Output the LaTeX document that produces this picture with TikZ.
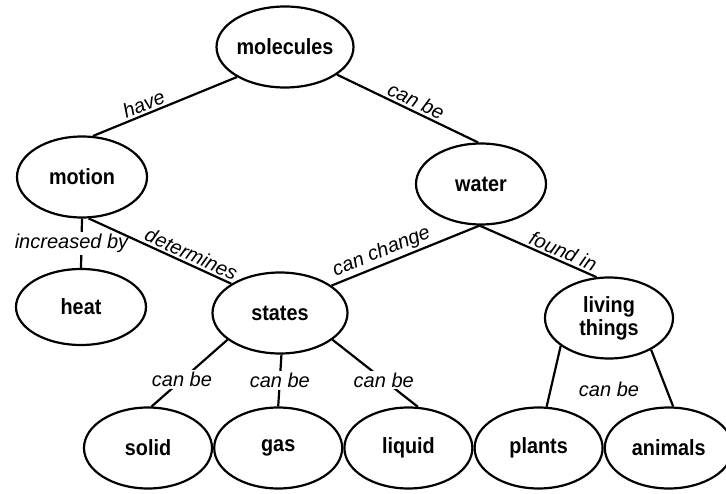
\documentclass[tikz,border=0pt]{standalone}
\usepackage{fontspec}
\setmainfont{Liberation Sans}
\newfontfamily\conceptfont[FakeStretch=0.9]{Liberation Sans}
\usepackage{tikz}
\usetikzlibrary{positioning,shapes.geometric}

\begin{document}
\begin{tikzpicture}[
  x=1pt, y=-1pt,
  concept/.style={ellipse, draw=black, line width=2.2pt, minimum width=130pt,
    minimum height=81pt, inner sep=0pt, align=center,
    font=\conceptfont\bfseries\fontsize{22}{23}\selectfont},
  link/.style={line width=2.2pt, color=black},
  lbl/.style={font=\itshape\fontsize{20}{22}\selectfont, inner sep=2pt},
  cut/.style={lbl, fill=white},
]
  \useasboundingbox (0,0) rectangle (726,494);

  \node[concept, minimum width=134pt] (mol) at (285,47) {molecules};
  \node[concept] (motion) at (82,177) {motion};
  \node[concept] (water)  at (481,184) {water};
  \node[concept, minimum height=76pt] (heat) at (81,307) {heat};
  \node[concept, minimum width=135pt] (states) at (280,313) {states};
  \node[concept, minimum width=128pt] (living) at (609,318) {living\\things};

  % bottom row, ellipses touching
  \node[concept, minimum width=128pt] (solid) at (148,448) {solid};
  \node[concept, minimum width=128pt, right=0pt of solid]  (gas)     {gas};
  \node[concept, minimum width=128pt, right=0pt of gas]    (liquid)  {liquid};
  \node[concept, minimum width=128pt, right=0pt of liquid] (plants)  {plants};
  \node[concept, minimum width=128pt, right=0pt of plants] (animals) {animals};

  \draw[link] (mol.212) -- node[lbl, sloped, above, pos=0.62] {have} (motion.75);
  \draw[link] (mol.332) -- node[lbl, sloped, above, pos=0.53] {can be} (water.94);
  \draw[link] (motion.south) -- node[cut, xshift=-10pt] {increased by} (heat.north);
  \draw[link] (motion.279) -- node[lbl, sloped, above, pos=0.69] {determines} (states.149);
  \draw[link] (water.268) -- node[lbl, sloped, above, pos=0.63] {can change} (states.28);
  \draw[link] (water.268) -- node[lbl, sloped, above, pos=0.68] {found in} (living.107);

  \draw[link] (states.207) -- node[cut, pos=0.6] {can be} (solid.85);
  \draw[link] (states.272) -- node[cut] {can be} (gas.north);
  \draw[link] (states.333) -- node[cut, pos=0.6] {can be} (liquid.77);

  \draw[link] (living.210) -- (plants.79);
  \draw[link] (living.323) -- (animals.84);
  \node[lbl, below=20pt of living] (canbe) {can be};
\end{tikzpicture}
\end{document}
